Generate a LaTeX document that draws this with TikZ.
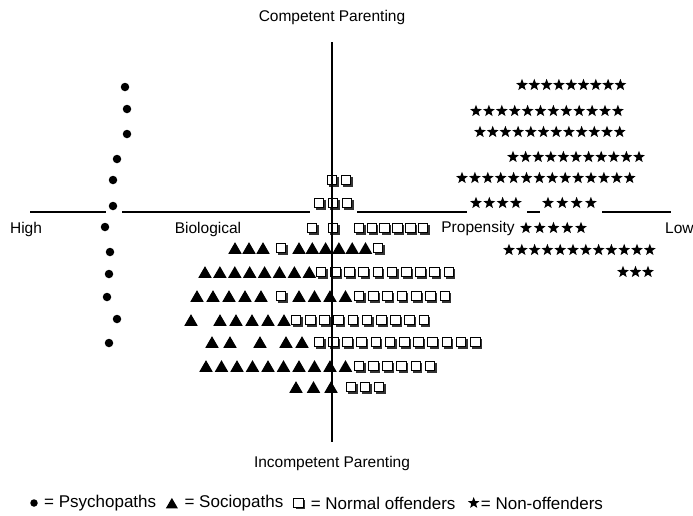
\documentclass[tikz,border=0pt]{standalone}
\usepackage{fontspec}
\setmainfont{Liberation Sans}
\usetikzlibrary{shapes.geometric,shadows}

% one row of evenly spaced markers: style, name, y, first x, pitch, count
\newcommand\markrow[6]{%
  \foreach \k in {1,...,#6}{\node[#1] (#2-\k) at ({#4+(\k-1)*#5},#3) {};}}

\begin{document}
\begin{tikzpicture}[x=1pt,y=-1pt,
  lbl/.style={font=\fontsize{15.5}{18}\selectfont, inner sep=0},
  key/.style={font=\fontsize{17}{20}\selectfont, inner sep=0, anchor=west},
  axis/.style={line width=1.3pt},
  psy/.style={circle, fill=black, minimum size=8.5pt, inner sep=0},
  soc/.style={regular polygon, regular polygon sides=3, fill=black,
              minimum size=15.5pt, inner sep=0, yshift=-1.9pt},
  nrm/.style={rectangle, draw=black, line width=0.8pt, fill=white,
              minimum size=9.6pt, inner sep=0,
              general shadow={fill=black!80, shadow xshift=1.7pt, shadow yshift=-1.7pt}},
  non/.style={star, star points=5, star point ratio=2.4, fill=black,
              minimum size=12.5pt, inner sep=0},
]
\fill[white] (0,0) rectangle (693,515);
\useasboundingbox (0,0) rectangle (693,515);

% axis titles
\node[lbl] (cp) at (332,17) {Competent Parenting};
\node[lbl] (ip) at (332,463) {Incompetent Parenting};
\node[lbl] (hi) at (26,229) {High};
\node[lbl] (bio) at (208,229) {Biological};
\node[lbl] (prop) at (478,228) {Propensity};
\node[lbl, anchor=west] (lo) at (665,228) {Low};

% horizontal axis, broken where markers sit on it
\coordinate (ha1) at (30,212);  \coordinate (hb1) at (106,212);
\coordinate (ha2) at (122,212); \coordinate (hb2) at (310,212);
\coordinate (ha3) at (357,212); \coordinate (hb3) at (467,212);
\coordinate (ha4) at (527,212); \coordinate (hb4) at (540,212);
\coordinate (ha5) at (602,212); \coordinate (hb5) at (671,212);
\foreach \i in {1,...,5} \draw[axis] (ha\i) -- (hb\i);

% psychopaths
\foreach \px/\py [count=\n] in {125/87,127/109,127/134,117/159,113/180,113/206,
    105/227,110/252,109/274,107/297,117/319,109/343}
  \node[psy] (p-\n) at (\px,\py) {};

% normal offenders and sociopaths, row by row
\markrow{nrm}{sa}{180}{332}{14}{2}
\markrow{nrm}{sb}{203}{319}{14}{3}
\node[nrm] (sc-a) at (312,228) {};
\node[nrm] (sc-b) at (333,228) {};
\markrow{nrm}{sc}{228}{359}{12.8}{6}

\markrow{soc}{td}{248}{235}{14}{3}
\node[nrm] (sd-a) at (281,248) {};
\markrow{soc}{tdd}{248}{299}{13.3}{6}
\node[nrm] (sd-b) at (378,248) {};

\markrow{soc}{te}{272}{205}{14.9}{8}
\markrow{nrm}{se}{272}{321}{14.2}{10}

\markrow{soc}{tf}{296}{197}{16}{5}
\node[nrm] (sf-a) at (281,296) {};
\markrow{soc}{tff}{296}{299}{15.5}{4}
\markrow{nrm}{sf}{296}{359}{14.3}{7}

\node[soc] (tg-a) at (191,320) {};
\markrow{soc}{tg}{320}{220}{16}{5}
\markrow{nrm}{sg}{320}{296}{14.2}{10}

\foreach \tx [count=\n] in {212,230,260,286,302}
  \node[soc] (th-\n) at (\tx,342) {};
\markrow{nrm}{sh}{342}{319}{14.2}{12}

\markrow{soc}{ti}{366}{206}{15.5}{10}
\markrow{nrm}{si}{366}{359}{14.2}{6}

\markrow{soc}{tj}{387}{296}{17.5}{3}
\markrow{nrm}{sj}{387}{351}{14}{3}

% non-offenders
\markrow{non}{n1}{85}{522}{12.3}{9}
\markrow{non}{n2}{111}{476}{12.9}{12}
\markrow{non}{n3}{132}{480}{12.7}{12}
\markrow{non}{n4}{157}{513}{12.6}{11}
\markrow{non}{n5}{178}{462}{12.9}{14}
\markrow{non}{n6}{203}{476}{13.3}{4}
\markrow{non}{n7}{203}{548}{14.3}{4}
\markrow{non}{n8}{228}{526}{13.75}{5}
\markrow{non}{n9}{250}{509}{12.8}{12}
\markrow{non}{n10}{272}{623}{12.5}{3}

% vertical axis on top of the markers
\coordinate (vt) at (332,42);
\coordinate (vb) at (332,442);
\draw[line width=1.6pt] (vt) -- (vb);

% legend
\node[psy, minimum size=7.5pt] (k1) at (34,503) {};
\node[key] (l1) at (44,503) {= Psychopaths};
\node[soc, minimum size=14pt] (k2) at ([xshift=15.5pt]l1.east) {};
\node[key] (l2) at ([xshift=28pt]l1.east) {= Sociopaths};
\node[nrm, minimum size=9.5pt] (k3) at ([xshift=15pt]l2.east) {};
\node[key] (l3) at ([xshift=27pt]l2.east) {= Normal offenders};
\node[non, minimum size=12pt] (k4) at ([xshift=18pt]l3.east) {};
\node[key] (l4) at ([xshift=25pt]l3.east) {= Non-offenders};
\end{tikzpicture}
\end{document}
